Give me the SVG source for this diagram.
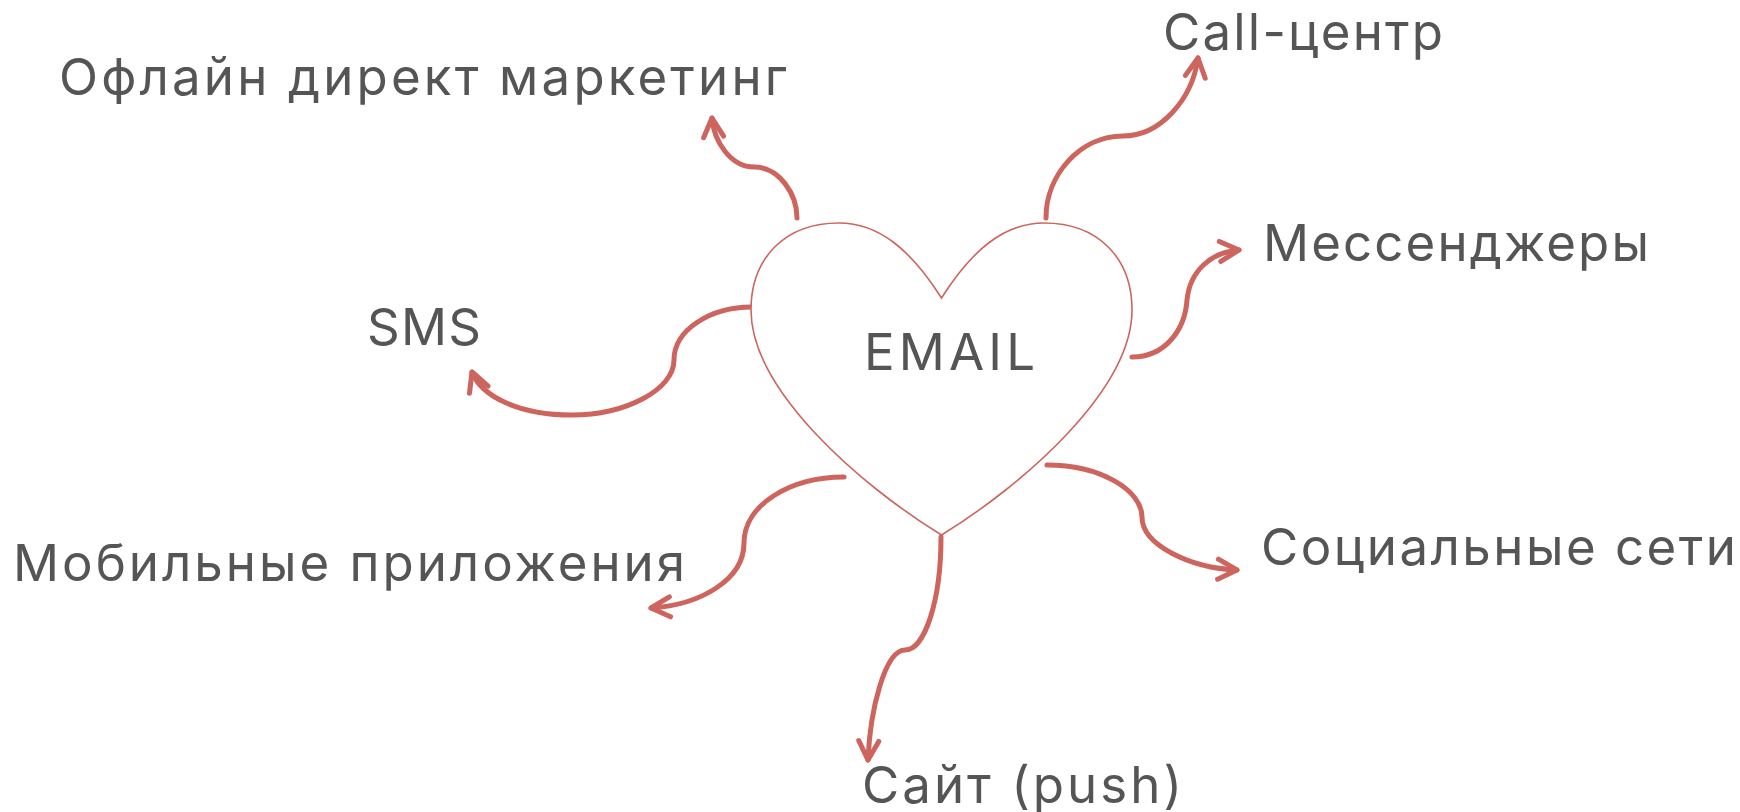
<svg xmlns="http://www.w3.org/2000/svg" width="1740" height="812" viewBox="0 0 1740 812">
  <style>
    .lbl { font-family: "Inter", "Open Sans", sans-serif; font-size: 51px; fill: #555555; }
    .con { fill: none; stroke: #CD645E; stroke-width: 5; stroke-linecap: round; stroke-linejoin: round; marker-end: url(#arr); }
    .heart { fill: #ffffff; stroke: #CD645E; stroke-width: 1.6; }
  </style>
  <defs>
    <marker id="arr" markerUnits="userSpaceOnUse" orient="auto" refX="0" refY="0" markerWidth="40" markerHeight="40" viewBox="-30 -20 40 40" style="overflow:visible">
      <path d="M-19,-10 L0,0 L-19,10" fill="none" stroke="#CD645E" stroke-width="5" stroke-linecap="round" stroke-linejoin="round"/>
    </marker>
  </defs>
  <rect width="1740" height="812" fill="#ffffff"/>

  <g id="connectors">
    <path class="con" d="M797,218 C797,195 780,167 754,167 C731,167 714,142 712,118"/>
    <path class="con" d="M1046,218 C1046,175 1080,136 1123,136 C1160,136 1192,100 1198,58"/>
    <path class="con" d="M1132,357 C1165,357 1185,330 1187,300 C1190,270 1212,252 1239,250"/>
    <path class="con" d="M752,307 C710,307 674,330 674,360 C674,390 625,415 572,415 C522,415 482,398 472,372"/>
    <path class="con" d="M844,477 C790,477 744,505 744,543 C744,580 700,605 651,608"/>
    <path class="con" d="M941,537 C941,600 925,650 905,650 C885,650 870,710 868,760"/>
    <path class="con" d="M1047,465 C1100,465 1142,490 1142,517 C1142,545 1190,568 1237,570"/>
  </g>

  <g id="email">
    <path class="heart" d="M941.5,298 C911,250 879,223 839,223 C785,223 751,258 751,310 C751,390 860,485 941.5,535 C1023,485 1132,390 1132,310 C1132,258 1098,223 1044,223 C1004,223 972,250 941.5,298 Z"/>
    <text class="lbl" x="864" y="370" textLength="171" lengthAdjust="spacing">EMAIL</text>
  </g>

  <g id="offline"><text class="lbl" x="59" y="95" textLength="728" lengthAdjust="spacing">Офлайн директ маркетинг</text></g>
  <g id="sms"><text class="lbl" x="367" y="345" textLength="114" lengthAdjust="spacing">SMS</text></g>
  <g id="call"><text class="lbl" x="1163" y="50" textLength="280" lengthAdjust="spacing">Call-центр</text></g>
  <g id="messengers"><text class="lbl" x="1263" y="261" textLength="386" lengthAdjust="spacing">Мессенджеры</text></g>
  <g id="mobile"><text class="lbl" x="13" y="581" textLength="672" lengthAdjust="spacing">Мобильные приложения</text></g>
  <g id="social"><text class="lbl" x="1261" y="565" textLength="475" lengthAdjust="spacing">Социальные сети</text></g>
  <g id="site"><text class="lbl" x="862" y="803" textLength="320" lengthAdjust="spacing">Сайт (push)</text></g>
</svg>
